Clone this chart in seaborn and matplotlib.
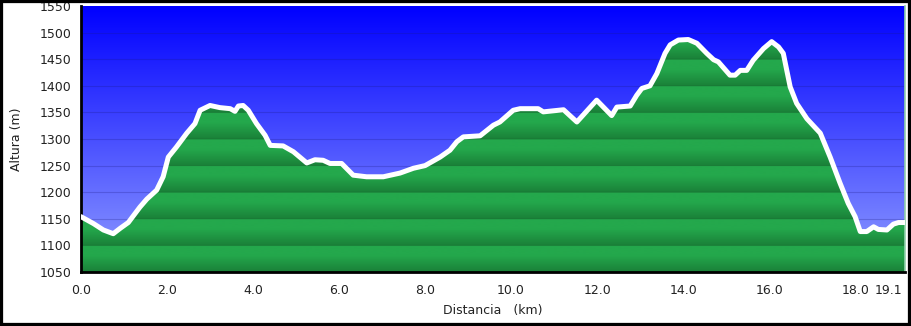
import numpy as np
import pandas as pd
import matplotlib
matplotlib.use("Agg")
import matplotlib.pyplot as plt
from matplotlib.patches import Rectangle
from matplotlib.colors import LinearSegmentedColormap
import seaborn as sns

# ---- data ----
distance_km = [0.0, 0.29, 0.52, 0.75, 0.91, 1.10, 1.37, 1.53, 1.76, 1.91, 2.03, 2.22,
               2.46, 2.65, 2.77, 3.00, 3.23, 3.47, 3.58, 3.66, 3.77, 3.89, 4.08, 4.28,
               4.40, 4.70, 4.94, 5.25, 5.44, 5.63, 5.79, 6.06, 6.33, 6.64, 7.03, 7.42,
               7.73, 8.00, 8.35, 8.58, 8.74, 8.89, 9.28, 9.59, 9.74, 10.05, 10.21, 10.63,
               10.75, 11.22, 11.53, 11.99, 12.34, 12.46, 12.77, 12.92, 13.04, 13.23, 13.39,
               13.58, 13.70, 13.89, 14.12, 14.32, 14.55, 14.71, 14.82, 15.09, 15.21, 15.33,
               15.48, 15.63, 15.87, 16.06, 16.22, 16.33, 16.49, 16.64, 16.88, 17.19, 17.42,
               17.65, 17.84, 18.00, 18.12, 18.27, 18.43, 18.54, 18.74, 18.89, 19.01, 19.16]
altitude_m = [1154, 1141, 1129, 1122, 1132, 1143, 1172, 1187, 1204, 1229, 1266, 1285,
              1311, 1329, 1354, 1363, 1359, 1357, 1352, 1362, 1363, 1354, 1329, 1307,
              1288, 1287, 1276, 1255, 1261, 1260, 1254, 1254, 1232, 1229, 1229, 1236,
              1245, 1250, 1266, 1279, 1295, 1304, 1306, 1326, 1332, 1354, 1357, 1357,
              1351, 1355, 1332, 1373, 1344, 1360, 1362, 1382, 1395, 1400, 1423,
              1461, 1477, 1486, 1487, 1480, 1461, 1449, 1445, 1420, 1420, 1429,
              1429, 1448, 1470, 1483, 1473, 1461, 1398, 1367, 1338, 1311, 1266,
              1217, 1179, 1154, 1126, 1126, 1135, 1130, 1129, 1140, 1143, 1143]
x_ticks = [0.0, 2.0, 4.0, 6.0, 8.0, 10.0, 12.0, 14.0, 16.0, 18.0, 19.1]
x_tick_labels = ["0.0", "2.0", "4.0", "6.0", "8.0", "10.0", "12.0", "14.0", "16.0", "18.0", "19.1"]
y_ticks = [1050, 1100, 1150, 1200, 1250, 1300, 1350, 1400, 1450, 1500, 1550]

df = pd.DataFrame({"Distancia": distance_km, "Altura": altitude_m})

sns.set_style("white")
plt.rcParams["font.family"] = ["DejaVu Sans"]

fig = plt.figure(figsize=(9.11, 3.26), dpi=100)
ax = fig.add_axes([81 / 911, 1 - 272 / 326, (905 - 81) / 911, (272 - 6) / 326])

XMIN, XMAX, YMIN, YMAX = 0.0, 19.16, 1050, 1550

# sky gradient
sky = LinearSegmentedColormap.from_list("sky", [(145 / 255, 158 / 255, 1.0), (0, 0, 1.0)])
grad = np.linspace(0, 1, 256).reshape(-1, 1)
ax.imshow(grad, cmap=sky, origin="lower", aspect="auto",
          extent=[XMIN, XMAX, YMIN, YMAX], zorder=0, interpolation="bilinear")
for yv in y_ticks[1:-1]:
    ax.axhline(yv, color=(0.1, 0.1, 0.5), lw=0.8, alpha=0.25, zorder=1)

# green banded fill clipped to the profile
poly = ax.fill_between(df["Distancia"], df["Altura"], YMIN, color="none", lw=0, zorder=2)
yy = np.linspace(YMIN, YMAX, 1000)
phase = ((yy - YMIN) % 50) / 50.0  # 0 at bottom of band, 1 at top
light = np.array([36, 168, 76]) / 255
dark = np.array([26, 128, 56]) / 255
t = np.clip(phase * 1.6, 0, 1)
cols = dark[None, :] * (1 - t[:, None]) + light[None, :] * t[:, None]
edge = (phase > 0.99) | (phase < 0.01)
cols[edge] = np.array([22, 105, 46]) / 255
img = ax.imshow(cols.reshape(-1, 1, 3), origin="lower", aspect="auto",
                extent=[XMIN, XMAX, YMIN, YMAX], zorder=2, interpolation="bilinear")
img.set_clip_path(poly.get_paths()[0], transform=ax.transData)

sns.lineplot(data=df, x="Distancia", y="Altura", ax=ax, color="white", lw=3.6,
             zorder=4, solid_joinstyle="round", solid_capstyle="round")

ax.set_xlim(XMIN, XMAX)
ax.set_ylim(YMIN, YMAX)
ax.set_xticks(x_ticks)
ax.set_xticklabels(x_tick_labels)
ax.set_yticks(y_ticks)
ax.tick_params(axis="both", direction="out", length=4, width=2, color="black",
               labelsize=9, labelcolor="#222222", pad=3)
ax.tick_params(axis="x", pad=5)
ax.get_xticklabels()[-1].set_horizontalalignment("right")
ax.set_xlabel("Distancia   (km)", fontsize=9, color="#222222", labelpad=5)
ax.set_ylabel("Altura (m)", fontsize=9, color="#222222", labelpad=12)

for s in ["left", "bottom"]:
    ax.spines[s].set_color("black")
    ax.spines[s].set_linewidth(2)
ax.spines["top"].set_visible(False)
ax.spines["right"].set_color("#8fcfaa")
ax.spines["right"].set_linewidth(1.2)

fig.patches.append(Rectangle((0, 0), 1, 1, transform=fig.transFigure, fill=False,
                             edgecolor="black", linewidth=4.5, zorder=10))

fig.savefig("out.png", dpi=100, facecolor="white")
